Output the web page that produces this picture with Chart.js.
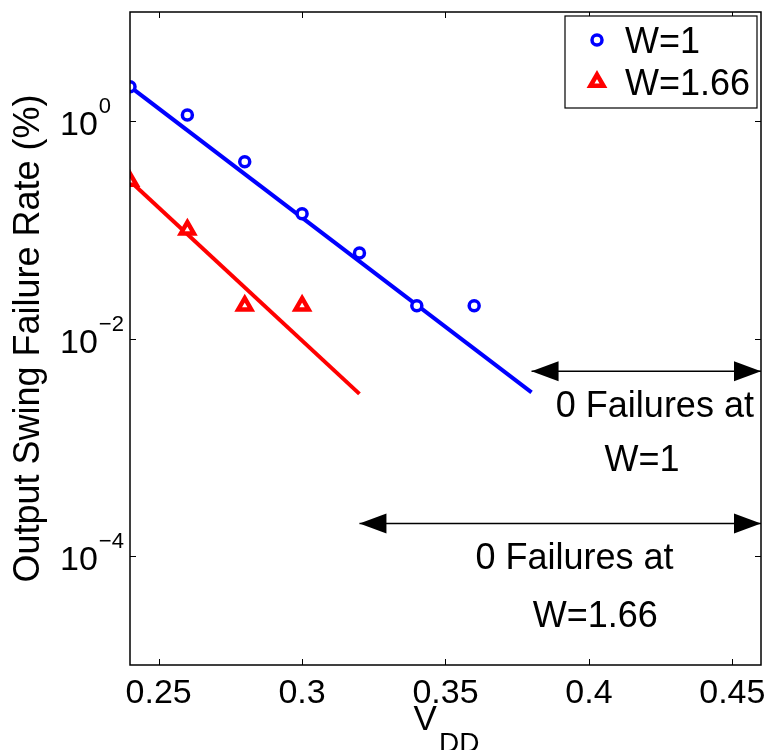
<!DOCTYPE html>
<html>
<head>
  <meta charset="utf-8">
  <title>Output swing failure rate</title>
  <script src="https://cdn.jsdelivr.net/npm/chart.js"></script>
  <style>
    html, body { margin: 0; padding: 0; background: #fff; }
    #wrap { width: 773px; height: 750px; }
  </style>
</head>
<body>
<div id="wrap"><canvas id="swing-chart"></canvas></div>

<script>
// measured points
var vddW1 = [0.24, 0.26, 0.28, 0.30, 0.32, 0.34, 0.36];
var rateW1 = [2.06, 1.13, 0.42, 0.14, 0.061, 0.020, 0.020];
var vddW166 = [0.24, 0.26, 0.28, 0.30];
var rateW166 = [0.28, 0.10, 0.020, 0.020];

// fitted lines
var fitVddW1 = [0.24, 0.38];
var fitRateW1 = [2.06, 0.0032];
var fitVddW166 = [0.24, 0.32];
var fitRateW166 = [0.28, 0.0031];

// "0 failures" ranges
var zeroVddW1 = [0.38, 0.46];
var zeroRateW1 = [0.005, 0.005];
var zeroVddW166 = [0.32, 0.46];
var zeroRateW166 = [0.0002, 0.0002];

var xTicks = [0.25, 0.3, 0.35, 0.4, 0.45];
var xTickLabels = ['0.25', '0.3', '0.35', '0.4', '0.45'];
var yTicks = [1, 0.01, 0.0001];
var yTickExps = ['0', '\u22122', '\u22124'];

var FONT = '"Liberation Sans", Arial, Helvetica, sans-serif';

function pts(xs, ys) {
  return xs.map(function (x, i) { return { x: x, y: ys[i] }; });
}

// text notes, placed in data coordinates (baseline, centred)
var notes = [
  { text: '0 Failures at', x: 0.423, y: 0.0019 },
  { text: 'W=1', x: 0.4185, y: 0.00061 },
  { text: '0 Failures at', x: 0.395, y: 0.000076 },
  { text: 'W=1.66', x: 0.4022, y: 0.0000224 }
];

function arrowHead(ctx, tipX, y, dir) {
  var len = 27, half = 10;
  ctx.beginPath();
  ctx.moveTo(tipX, y);
  ctx.lineTo(tipX - dir * len, y - half);
  ctx.lineTo(tipX - dir * len, y + half);
  ctx.closePath();
  ctx.fill();
}

var matlabAxes = {
  id: 'matlabAxes',
  afterDraw: function (chart) {
    var ctx = chart.ctx, a = chart.chartArea;
    var xs = chart.scales.x, ys = chart.scales.y;
    ctx.save();

    // arrow heads
    ctx.fillStyle = '#000';
    [[zeroVddW1, zeroRateW1], [zeroVddW166, zeroRateW166]].forEach(function (r) {
      var y = ys.getPixelForValue(r[1][0]);
      arrowHead(ctx, xs.getPixelForValue(r[0][0]), y, -1);
      arrowHead(ctx, xs.getPixelForValue(r[0][1]), y, 1);
    });

    // frame + inward ticks
    ctx.strokeStyle = '#000';
    ctx.lineWidth = 1.5;
    ctx.strokeRect(a.left, a.top, a.right - a.left, a.bottom - a.top);
    ctx.lineWidth = 1;
    ctx.beginPath();
    xTicks.forEach(function (v) {
      var px = Math.round(xs.getPixelForValue(v)) + 0.5;
      ctx.moveTo(px, a.bottom); ctx.lineTo(px, a.bottom - 6);
      ctx.moveTo(px, a.top); ctx.lineTo(px, a.top + 6);
    });
    yTicks.forEach(function (v) {
      var py = Math.round(ys.getPixelForValue(v)) + 0.5;
      ctx.moveTo(a.left, py); ctx.lineTo(a.left + 6, py);
      ctx.moveTo(a.right, py); ctx.lineTo(a.right - 6, py);
    });
    ctx.stroke();

    // tick labels
    ctx.fillStyle = '#000';
    ctx.font = '34px ' + FONT;
    ctx.textBaseline = 'alphabetic';
    ctx.textAlign = 'center';
    xTicks.forEach(function (v, i) {
      ctx.fillText(xTickLabels[i], xs.getPixelForValue(v), 703);
    });
    ctx.textAlign = 'left';
    yTicks.forEach(function (v, i) {
      var py = ys.getPixelForValue(v);
      ctx.font = '34px ' + FONT;
      ctx.fillText('10', 60, py + 14);
      var w = ctx.measureText('10').width;
      ctx.font = '22px ' + FONT;
      ctx.fillText(yTickExps[i], 60 + w + 1, py - 8);
    });

    // notes
    ctx.textAlign = 'center';
    ctx.font = '36px ' + FONT;
    notes.forEach(function (n) {
      ctx.fillText(n.text, xs.getPixelForValue(n.x), ys.getPixelForValue(n.y));
    });

    // axis titles
    var cx = (a.left + a.right) / 2;
    ctx.font = '35px ' + FONT;
    ctx.textAlign = 'left';
    var vw = ctx.measureText('V').width;
    ctx.font = '28px ' + FONT;
    var dw = ctx.measureText('DD').width;
    var startX = cx - (vw + dw) / 2;
    ctx.font = '35px ' + FONT;
    ctx.fillText('V', startX, 730);
    ctx.font = '28px ' + FONT;
    ctx.fillText('DD', startX + vw + 2, 752);

    ctx.save();
    ctx.translate(29, (a.top + a.bottom) / 2);
    ctx.rotate(-Math.PI / 2);
    ctx.textAlign = 'center';
    ctx.textBaseline = 'middle';
    ctx.font = '36px ' + FONT;
    ctx.fillText('Output Swing Failure Rate (%)', 0, 0);
    ctx.restore();

    // legend
    var lx = 565, ly = 16, lw = 192, lh = 92;
    ctx.fillStyle = '#fff';
    ctx.fillRect(lx, ly, lw, lh);
    ctx.strokeStyle = '#000';
    ctx.lineWidth = 1.2;
    ctx.strokeRect(lx, ly, lw, lh);
    var items = chart.data.datasets.slice(0, 2);
    items.forEach(function (ds, i) {
      var my = ly + 24 + i * 42;
      ctx.strokeStyle = ds.borderColor;
      ctx.fillStyle = ds.backgroundColor;
      ctx.lineWidth = ds.borderWidth;
      Chart.helpers.drawPoint(ctx, { pointStyle: ds.pointStyle, radius: ds.pointRadius, borderWidth: ds.borderWidth }, 597, my);
      ctx.fillStyle = '#000';
      ctx.font = '36px ' + FONT;
      ctx.textAlign = 'left';
      ctx.textBaseline = 'alphabetic';
      ctx.fillText(ds.label, 625, my + 13);
    });
    ctx.restore();
  }
};

var ctx = document.getElementById('swing-chart').getContext('2d');
var chart = new Chart(ctx, {
  type: 'scatter',
  data: {
    datasets: [
      {
        label: 'W=1',
        data: pts(vddW1, rateW1),
        pointStyle: 'circle',
        pointRadius: 5,
        borderWidth: 3.5,
        borderColor: '#0000ff',
        backgroundColor: '#ffffff',
        showLine: false
      },
      {
        label: 'W=1.66',
        data: pts(vddW166, rateW166),
        pointStyle: 'triangle',
        pointRadius: 7.5,
        borderWidth: 4.5,
        borderColor: '#ff0000',
        backgroundColor: '#ffffff',
        showLine: false
      },
      {
        label: 'fit W=1',
        data: pts(fitVddW1, fitRateW1),
        showLine: true,
        pointRadius: 0,
        borderWidth: 4,
        borderColor: '#0000ff'
      },
      {
        label: 'fit W=1.66',
        data: pts(fitVddW166, fitRateW166),
        showLine: true,
        pointRadius: 0,
        borderWidth: 4,
        borderColor: '#ff0000'
      },
      {
        label: 'zero W=1',
        data: pts(zeroVddW1, zeroRateW1),
        showLine: true,
        pointRadius: 0,
        borderWidth: 1.5,
        borderColor: '#000'
      },
      {
        label: 'zero W=1.66',
        data: pts(zeroVddW166, zeroRateW166),
        showLine: true,
        pointRadius: 0,
        borderWidth: 1.5,
        borderColor: '#000'
      }
    ]
  },
  options: {
    responsive: true,
    maintainAspectRatio: false,
    animation: false,
    layout: { padding: { top: 8, right: 8, left: 0, bottom: 0 } },
    plugins: {
      legend: { display: false },
      tooltip: { enabled: false }
    },
    scales: {
      x: {
        type: 'linear',
        min: 0.24,
        max: 0.46,
        grid: { display: false },
        border: { display: false },
        ticks: { display: false },
        afterFit: function (s) { s.height = 85; }
      },
      y: {
        type: 'logarithmic',
        min: 0.00001,
        max: 10,
        grid: { display: false },
        border: { display: false },
        ticks: { display: false },
        afterFit: function (s) { s.width = 130; }
      }
    }
  },
  plugins: [matlabAxes]
});
</script>
</body>
</html>
